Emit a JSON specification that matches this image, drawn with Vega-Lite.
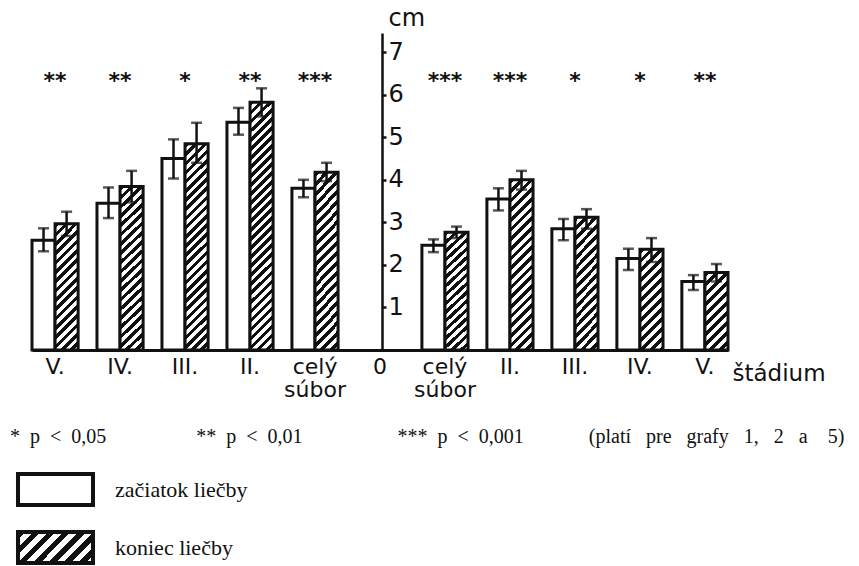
{
  "$schema": "https://vega.github.io/schema/vega-lite/v6.json",
  "width": 696,
  "height": 317,
  "autosize": {"type": "none"},
  "padding": {"left": 32, "top": 33, "right": 131, "bottom": 216},
  "background": "white",
  "config": {"view": {"stroke": null}, "font": "DejaVu Sans"},
  "datasets": {
    "bars": [
      {"g": "L:V.", "phase": "začiatok liečby", "v": 2.58, "lo": 2.32, "hi": 2.86},
      {"g": "L:V.", "phase": "koniec liečby", "v": 2.97, "lo": 2.68, "hi": 3.25},
      {"g": "L:IV.", "phase": "začiatok liečby", "v": 3.45, "lo": 3.10, "hi": 3.82},
      {"g": "L:IV.", "phase": "koniec liečby", "v": 3.84, "lo": 3.47, "hi": 4.21},
      {"g": "L:III.", "phase": "začiatok liečby", "v": 4.50, "lo": 4.03, "hi": 4.95},
      {"g": "L:III.", "phase": "koniec liečby", "v": 4.85, "lo": 4.40, "hi": 5.34},
      {"g": "L:II.", "phase": "začiatok liečby", "v": 5.35, "lo": 5.06, "hi": 5.69},
      {"g": "L:II.", "phase": "koniec liečby", "v": 5.82, "lo": 5.49, "hi": 6.15},
      {"g": "L:celý súbor", "phase": "začiatok liečby", "v": 3.80, "lo": 3.59, "hi": 4.00},
      {"g": "L:celý súbor", "phase": "koniec liečby", "v": 4.18, "lo": 3.97, "hi": 4.40},
      {"g": "R:celý súbor", "phase": "začiatok liečby", "v": 2.46, "lo": 2.30, "hi": 2.60},
      {"g": "R:celý súbor", "phase": "koniec liečby", "v": 2.77, "lo": 2.63, "hi": 2.90},
      {"g": "R:II.", "phase": "začiatok liečby", "v": 3.55, "lo": 3.28, "hi": 3.80},
      {"g": "R:II.", "phase": "koniec liečby", "v": 4.00, "lo": 3.77, "hi": 4.21},
      {"g": "R:III.", "phase": "začiatok liečby", "v": 2.85, "lo": 2.58, "hi": 3.08},
      {"g": "R:III.", "phase": "koniec liečby", "v": 3.12, "lo": 2.85, "hi": 3.31},
      {"g": "R:IV.", "phase": "začiatok liečby", "v": 2.15, "lo": 1.88, "hi": 2.38},
      {"g": "R:IV.", "phase": "koniec liečby", "v": 2.37, "lo": 2.07, "hi": 2.63},
      {"g": "R:V.", "phase": "začiatok liečby", "v": 1.61, "lo": 1.41, "hi": 1.76},
      {"g": "R:V.", "phase": "koniec liečby", "v": 1.82, "lo": 1.61, "hi": 2.02}
    ],
    "stars": [
      {"g": "L:V.", "s": "**"},
      {"g": "L:IV.", "s": "**"},
      {"g": "L:III.", "s": "*"},
      {"g": "L:II.", "s": "**"},
      {"g": "L:celý súbor", "s": "***"},
      {"g": "R:celý súbor", "s": "***"},
      {"g": "R:II.", "s": "***"},
      {"g": "R:III.", "s": "*"},
      {"g": "R:IV.", "s": "*"},
      {"g": "R:V.", "s": "**"}
    ]
  },
  "resolve": {"scale": {"stroke": "independent"}, "legend": {"stroke": "independent"}},
  "layer": [
    {
      "data": {"name": "bars"},
      "transform": [{"filter": "datum.phase === 'začiatok liečby'"}],
      "mark": {"type": "bar", "strokeWidth": 3},
      "encoding": {
        "x": {
          "field": "g", "type": "nominal", "title": "štádium",
          "scale": {"domain": ["L:V.", "L:IV.", "L:III.", "L:II.", "L:celý súbor", "C:0", "R:celý súbor", "R:II.", "R:III.", "R:IV.", "R:V."], "paddingInner": 0.29, "paddingOuter": 0},
          "axis": {
            "labelExpr": "split(slice(datum.value, 2), ' ')",
            "labelAngle": 0, "labelFont": "DejaVu Sans", "labelFontSize": 22, "labelColor": "#111",
            "labelBaseline": "top", "labelPadding": 6, "labelLineHeight": 23, "labelLimit": 200,
            "ticks": false, "domainColor": "#111", "domainWidth": 3, "grid": false,
            "titleFont": "DejaVu Sans", "titleFontSize": 23, "titleFontWeight": "normal", "titleColor": "#111",
            "titleX": 700, "titleY": 30, "titleAlign": "left", "titleBaseline": "alphabetic"
          }
        },
        "xOffset": {"field": "phase", "type": "nominal", "scale": {"domain": ["začiatok liečby", "koniec liečby"], "paddingInner": 0, "paddingOuter": 0}},
        "y": {
          "field": "v", "type": "quantitative", "title": "cm",
          "scale": {"domain": [0, 7.45], "nice": false},
          "axis": {
            "orient": "right", "offset": -346, "values": [1, 2, 3, 4, 5, 6, 7], "grid": false,
            "domainColor": "#111", "domainWidth": 2.5, "tickColor": "#111", "tickWidth": 2.5, "tickSize": 4,
            "labelFont": "DejaVu Sans", "labelFontSize": 24, "labelColor": "#111", "labelPadding": 2, "labelBaseline": "middle",
            "titleAngle": 0, "titleX": 6, "titleY": -8, "titleAlign": "left", "titleBaseline": "alphabetic",
            "titleFont": "DejaVu Sans", "titleFontSize": 24, "titleFontWeight": "normal", "titleColor": "#111"
          }
        },
        "fill": {"value": "#fff"},
        "stroke": {
          "field": "phase", "type": "nominal",
          "scale": {"domain": ["začiatok liečby"], "range": ["#111"]},
          "legend": {
            "orient": "none", "legendX": -22, "legendY": 394, "padding": 0,
            "title": "*\u00a0\u00a0p\u00a0\u00a0<\u00a0\u00a00,05\u00a0\u00a0\u00a0\u00a0\u00a0\u00a0\u00a0\u00a0\u00a0\u00a0\u00a0\u00a0\u00a0\u00a0\u00a0\u00a0\u00a0\u00a0**\u00a0\u00a0p\u00a0\u00a0<\u00a0\u00a00,01\u00a0\u00a0\u00a0\u00a0\u00a0\u00a0\u00a0\u00a0\u00a0\u00a0\u00a0\u00a0\u00a0\u00a0\u00a0\u00a0\u00a0\u00a0\u00a0***\u00a0\u00a0p\u00a0\u00a0<\u00a0\u00a00,001\u00a0\u00a0\u00a0\u00a0\u00a0\u00a0\u00a0\u00a0\u00a0\u00a0\u00a0\u00a0\u00a0(platí\u00a0\u00a0\u00a0pre\u00a0\u00a0\u00a0grafy\u00a0\u00a0\u00a01,\u00a0\u00a0\u00a02\u00a0\u00a0\u00a0a\u00a0\u00a0\u00a0\u00a05)",
            "titleFont": "Liberation Serif", "titleFontSize": 20, "titleFontWeight": "normal", "titleColor": "#111",
            "titleLimit": 1000, "titlePadding": 25, "titleBaseline": "top",
            "symbolType": "M-2.42,-1H2.42V1H-2.42Z", "symbolSize": 961, "symbolStrokeWidth": 4, "symbolOffset": 28,
            "labelFont": "Liberation Serif", "labelFontSize": 22, "labelColor": "#111", "labelOffset": 42, "labelLimit": 400
          }
        }
      }
    },
    {
      "data": {"name": "bars"},
      "transform": [{"filter": "datum.phase === 'koniec liečby'"}],
      "mark": {"type": "bar", "strokeWidth": 3},
      "encoding": {
        "x": {"field": "g", "type": "nominal", "title": "štádium"},
        "xOffset": {"field": "phase", "type": "nominal"},
        "y": {"field": "v", "type": "quantitative", "title": "cm"},
        "fill": {
          "condition": [
            {"test": "datum.v < 2.1", "value": {"gradient": "linear", "x1": 0, "y1": 0, "x2": 0.3536, "y2": 1.191, "stops": [
              {"offset":0,"color":"#111"},{"offset":0.05,"color":"#111"},{"offset":0.05,"color":"#fff"},{"offset":0.1,"color":"#fff"},
              {"offset":0.1,"color":"#111"},{"offset":0.15,"color":"#111"},{"offset":0.15,"color":"#fff"},{"offset":0.2,"color":"#fff"},
              {"offset":0.2,"color":"#111"},{"offset":0.25,"color":"#111"},{"offset":0.25,"color":"#fff"},{"offset":0.3,"color":"#fff"},
              {"offset":0.3,"color":"#111"},{"offset":0.35,"color":"#111"},{"offset":0.35,"color":"#fff"},{"offset":0.4,"color":"#fff"},
              {"offset":0.4,"color":"#111"},{"offset":0.45,"color":"#111"},{"offset":0.45,"color":"#fff"},{"offset":0.5,"color":"#fff"},
              {"offset":0.5,"color":"#111"},{"offset":0.55,"color":"#111"},{"offset":0.55,"color":"#fff"},{"offset":0.6,"color":"#fff"},
              {"offset":0.6,"color":"#111"},{"offset":0.65,"color":"#111"},{"offset":0.65,"color":"#fff"},{"offset":0.7,"color":"#fff"},
              {"offset":0.7,"color":"#111"},{"offset":0.75,"color":"#111"},{"offset":0.75,"color":"#fff"},{"offset":0.8,"color":"#fff"},
              {"offset":0.8,"color":"#111"},{"offset":0.85,"color":"#111"},{"offset":0.85,"color":"#fff"},{"offset":0.9,"color":"#fff"},
              {"offset":0.9,"color":"#111"},{"offset":0.95,"color":"#111"},{"offset":0.95,"color":"#fff"},{"offset":1,"color":"#fff"}
            ]}},
            {"test": "datum.v < 2.6", "value": {"gradient": "linear", "x1": 0, "y1": 0, "x2": 0.2666, "y2": 1.168, "stops": [
              {"offset":0,"color":"#111"},{"offset":0.04,"color":"#111"},{"offset":0.04,"color":"#fff"},{"offset":0.08,"color":"#fff"},
              {"offset":0.08,"color":"#111"},{"offset":0.12,"color":"#111"},{"offset":0.12,"color":"#fff"},{"offset":0.16,"color":"#fff"},
              {"offset":0.16,"color":"#111"},{"offset":0.2,"color":"#111"},{"offset":0.2,"color":"#fff"},{"offset":0.24,"color":"#fff"},
              {"offset":0.24,"color":"#111"},{"offset":0.28,"color":"#111"},{"offset":0.28,"color":"#fff"},{"offset":0.32,"color":"#fff"},
              {"offset":0.32,"color":"#111"},{"offset":0.36,"color":"#111"},{"offset":0.36,"color":"#fff"},{"offset":0.4,"color":"#fff"},
              {"offset":0.4,"color":"#111"},{"offset":0.44,"color":"#111"},{"offset":0.44,"color":"#fff"},{"offset":0.48,"color":"#fff"},
              {"offset":0.48,"color":"#111"},{"offset":0.52,"color":"#111"},{"offset":0.52,"color":"#fff"},{"offset":0.56,"color":"#fff"},
              {"offset":0.56,"color":"#111"},{"offset":0.6,"color":"#111"},{"offset":0.6,"color":"#fff"},{"offset":0.64,"color":"#fff"},
              {"offset":0.64,"color":"#111"},{"offset":0.68,"color":"#111"},{"offset":0.68,"color":"#fff"},{"offset":0.72,"color":"#fff"},
              {"offset":0.72,"color":"#111"},{"offset":0.76,"color":"#111"},{"offset":0.76,"color":"#fff"},{"offset":0.8,"color":"#fff"},
              {"offset":0.8,"color":"#111"},{"offset":0.84,"color":"#111"},{"offset":0.84,"color":"#fff"},{"offset":0.88,"color":"#fff"},
              {"offset":0.88,"color":"#111"},{"offset":0.92,"color":"#111"},{"offset":0.92,"color":"#fff"},{"offset":0.96,"color":"#fff"},
              {"offset":0.96,"color":"#111"},{"offset":1,"color":"#111"}
            ]}},
            {"test": "datum.v < 3.5", "value": {"gradient": "linear", "x1": 0, "y1": 0, "x2": 0.2098, "y2": 1.145, "stops": [
              {"offset":0,"color":"#111"},{"offset":0.03125,"color":"#111"},{"offset":0.03125,"color":"#fff"},{"offset":0.0625,"color":"#fff"},
              {"offset":0.0625,"color":"#111"},{"offset":0.09375,"color":"#111"},{"offset":0.09375,"color":"#fff"},{"offset":0.125,"color":"#fff"},
              {"offset":0.125,"color":"#111"},{"offset":0.15625,"color":"#111"},{"offset":0.15625,"color":"#fff"},{"offset":0.1875,"color":"#fff"},
              {"offset":0.1875,"color":"#111"},{"offset":0.21875,"color":"#111"},{"offset":0.21875,"color":"#fff"},{"offset":0.25,"color":"#fff"},
              {"offset":0.25,"color":"#111"},{"offset":0.28125,"color":"#111"},{"offset":0.28125,"color":"#fff"},{"offset":0.3125,"color":"#fff"},
              {"offset":0.3125,"color":"#111"},{"offset":0.34375,"color":"#111"},{"offset":0.34375,"color":"#fff"},{"offset":0.375,"color":"#fff"},
              {"offset":0.375,"color":"#111"},{"offset":0.40625,"color":"#111"},{"offset":0.40625,"color":"#fff"},{"offset":0.4375,"color":"#fff"},
              {"offset":0.4375,"color":"#111"},{"offset":0.46875,"color":"#111"},{"offset":0.46875,"color":"#fff"},{"offset":0.5,"color":"#fff"},
              {"offset":0.5,"color":"#111"},{"offset":0.53125,"color":"#111"},{"offset":0.53125,"color":"#fff"},{"offset":0.5625,"color":"#fff"},
              {"offset":0.5625,"color":"#111"},{"offset":0.59375,"color":"#111"},{"offset":0.59375,"color":"#fff"},{"offset":0.625,"color":"#fff"},
              {"offset":0.625,"color":"#111"},{"offset":0.65625,"color":"#111"},{"offset":0.65625,"color":"#fff"},{"offset":0.6875,"color":"#fff"},
              {"offset":0.6875,"color":"#111"},{"offset":0.71875,"color":"#111"},{"offset":0.71875,"color":"#fff"},{"offset":0.75,"color":"#fff"},
              {"offset":0.75,"color":"#111"},{"offset":0.78125,"color":"#111"},{"offset":0.78125,"color":"#fff"},{"offset":0.8125,"color":"#fff"},
              {"offset":0.8125,"color":"#111"},{"offset":0.84375,"color":"#111"},{"offset":0.84375,"color":"#fff"},{"offset":0.875,"color":"#fff"},
              {"offset":0.875,"color":"#111"},{"offset":0.90625,"color":"#111"},{"offset":0.90625,"color":"#fff"},{"offset":0.9375,"color":"#fff"},
              {"offset":0.9375,"color":"#111"},{"offset":0.96875,"color":"#111"},{"offset":0.96875,"color":"#fff"},{"offset":1,"color":"#fff"}
            ]}},
            {"test": "datum.v < 4.5", "value": {"gradient": "linear", "x1": 0, "y1": 0, "x2": 0.1509, "y2": 1.115, "stops": [
              {"offset":0,"color":"#111"},{"offset":0.025,"color":"#111"},{"offset":0.025,"color":"#fff"},{"offset":0.05,"color":"#fff"},
              {"offset":0.05,"color":"#111"},{"offset":0.075,"color":"#111"},{"offset":0.075,"color":"#fff"},{"offset":0.1,"color":"#fff"},
              {"offset":0.1,"color":"#111"},{"offset":0.125,"color":"#111"},{"offset":0.125,"color":"#fff"},{"offset":0.15,"color":"#fff"},
              {"offset":0.15,"color":"#111"},{"offset":0.175,"color":"#111"},{"offset":0.175,"color":"#fff"},{"offset":0.2,"color":"#fff"},
              {"offset":0.2,"color":"#111"},{"offset":0.225,"color":"#111"},{"offset":0.225,"color":"#fff"},{"offset":0.25,"color":"#fff"},
              {"offset":0.25,"color":"#111"},{"offset":0.275,"color":"#111"},{"offset":0.275,"color":"#fff"},{"offset":0.3,"color":"#fff"},
              {"offset":0.3,"color":"#111"},{"offset":0.325,"color":"#111"},{"offset":0.325,"color":"#fff"},{"offset":0.35,"color":"#fff"},
              {"offset":0.35,"color":"#111"},{"offset":0.375,"color":"#111"},{"offset":0.375,"color":"#fff"},{"offset":0.4,"color":"#fff"},
              {"offset":0.4,"color":"#111"},{"offset":0.425,"color":"#111"},{"offset":0.425,"color":"#fff"},{"offset":0.45,"color":"#fff"},
              {"offset":0.45,"color":"#111"},{"offset":0.475,"color":"#111"},{"offset":0.475,"color":"#fff"},{"offset":0.5,"color":"#fff"},
              {"offset":0.5,"color":"#111"},{"offset":0.525,"color":"#111"},{"offset":0.525,"color":"#fff"},{"offset":0.55,"color":"#fff"},
              {"offset":0.55,"color":"#111"},{"offset":0.575,"color":"#111"},{"offset":0.575,"color":"#fff"},{"offset":0.6,"color":"#fff"},
              {"offset":0.6,"color":"#111"},{"offset":0.625,"color":"#111"},{"offset":0.625,"color":"#fff"},{"offset":0.65,"color":"#fff"},
              {"offset":0.65,"color":"#111"},{"offset":0.675,"color":"#111"},{"offset":0.675,"color":"#fff"},{"offset":0.7,"color":"#fff"},
              {"offset":0.7,"color":"#111"},{"offset":0.725,"color":"#111"},{"offset":0.725,"color":"#fff"},{"offset":0.75,"color":"#fff"},
              {"offset":0.75,"color":"#111"},{"offset":0.775,"color":"#111"},{"offset":0.775,"color":"#fff"},{"offset":0.8,"color":"#fff"},
              {"offset":0.8,"color":"#111"},{"offset":0.825,"color":"#111"},{"offset":0.825,"color":"#fff"},{"offset":0.85,"color":"#fff"},
              {"offset":0.85,"color":"#111"},{"offset":0.875,"color":"#111"},{"offset":0.875,"color":"#fff"},{"offset":0.9,"color":"#fff"},
              {"offset":0.9,"color":"#111"},{"offset":0.925,"color":"#111"},{"offset":0.925,"color":"#fff"},{"offset":0.95,"color":"#fff"},
              {"offset":0.95,"color":"#111"},{"offset":0.975,"color":"#111"},{"offset":0.975,"color":"#fff"},{"offset":1,"color":"#fff"}
            ]}},
            {"test": "datum.v < 5.3", "value": {"gradient": "linear", "x1": 0, "y1": 0, "x2": 0.1225, "y2": 1.098, "stops": [
              {"offset":0,"color":"#111"},{"offset":0.02,"color":"#111"},{"offset":0.02,"color":"#fff"},{"offset":0.04,"color":"#fff"},
              {"offset":0.04,"color":"#111"},{"offset":0.06,"color":"#111"},{"offset":0.06,"color":"#fff"},{"offset":0.08,"color":"#fff"},
              {"offset":0.08,"color":"#111"},{"offset":0.1,"color":"#111"},{"offset":0.1,"color":"#fff"},{"offset":0.12,"color":"#fff"},
              {"offset":0.12,"color":"#111"},{"offset":0.14,"color":"#111"},{"offset":0.14,"color":"#fff"},{"offset":0.16,"color":"#fff"},
              {"offset":0.16,"color":"#111"},{"offset":0.18,"color":"#111"},{"offset":0.18,"color":"#fff"},{"offset":0.2,"color":"#fff"},
              {"offset":0.2,"color":"#111"},{"offset":0.22,"color":"#111"},{"offset":0.22,"color":"#fff"},{"offset":0.24,"color":"#fff"},
              {"offset":0.24,"color":"#111"},{"offset":0.26,"color":"#111"},{"offset":0.26,"color":"#fff"},{"offset":0.28,"color":"#fff"},
              {"offset":0.28,"color":"#111"},{"offset":0.3,"color":"#111"},{"offset":0.3,"color":"#fff"},{"offset":0.32,"color":"#fff"},
              {"offset":0.32,"color":"#111"},{"offset":0.34,"color":"#111"},{"offset":0.34,"color":"#fff"},{"offset":0.36,"color":"#fff"},
              {"offset":0.36,"color":"#111"},{"offset":0.38,"color":"#111"},{"offset":0.38,"color":"#fff"},{"offset":0.4,"color":"#fff"},
              {"offset":0.4,"color":"#111"},{"offset":0.42,"color":"#111"},{"offset":0.42,"color":"#fff"},{"offset":0.44,"color":"#fff"},
              {"offset":0.44,"color":"#111"},{"offset":0.46,"color":"#111"},{"offset":0.46,"color":"#fff"},{"offset":0.48,"color":"#fff"},
              {"offset":0.48,"color":"#111"},{"offset":0.5,"color":"#111"},{"offset":0.5,"color":"#fff"},{"offset":0.52,"color":"#fff"},
              {"offset":0.52,"color":"#111"},{"offset":0.54,"color":"#111"},{"offset":0.54,"color":"#fff"},{"offset":0.56,"color":"#fff"},
              {"offset":0.56,"color":"#111"},{"offset":0.58,"color":"#111"},{"offset":0.58,"color":"#fff"},{"offset":0.6,"color":"#fff"},
              {"offset":0.6,"color":"#111"},{"offset":0.62,"color":"#111"},{"offset":0.62,"color":"#fff"},{"offset":0.64,"color":"#fff"},
              {"offset":0.64,"color":"#111"},{"offset":0.66,"color":"#111"},{"offset":0.66,"color":"#fff"},{"offset":0.68,"color":"#fff"},
              {"offset":0.68,"color":"#111"},{"offset":0.7,"color":"#111"},{"offset":0.7,"color":"#fff"},{"offset":0.72,"color":"#fff"},
              {"offset":0.72,"color":"#111"},{"offset":0.74,"color":"#111"},{"offset":0.74,"color":"#fff"},{"offset":0.76,"color":"#fff"},
              {"offset":0.76,"color":"#111"},{"offset":0.78,"color":"#111"},{"offset":0.78,"color":"#fff"},{"offset":0.8,"color":"#fff"},
              {"offset":0.8,"color":"#111"},{"offset":0.82,"color":"#111"},{"offset":0.82,"color":"#fff"},{"offset":0.84,"color":"#fff"},
              {"offset":0.84,"color":"#111"},{"offset":0.86,"color":"#111"},{"offset":0.86,"color":"#fff"},{"offset":0.88,"color":"#fff"},
              {"offset":0.88,"color":"#111"},{"offset":0.9,"color":"#111"},{"offset":0.9,"color":"#fff"},{"offset":0.92,"color":"#fff"},
              {"offset":0.92,"color":"#111"},{"offset":0.94,"color":"#111"},{"offset":0.94,"color":"#fff"},{"offset":0.96,"color":"#fff"},
              {"offset":0.96,"color":"#111"},{"offset":0.98,"color":"#111"},{"offset":0.98,"color":"#fff"},{"offset":1,"color":"#fff"}
            ]}},
            {"test": "datum.v >= 0", "value": {"gradient": "linear", "x1": 0, "y1": 0, "x2": 0.1007, "y2": 1.0843, "stops": [
              {"offset":0,"color":"#111"},{"offset":0.0167,"color":"#111"},{"offset":0.0167,"color":"#fff"},{"offset":0.0333,"color":"#fff"},
              {"offset":0.0333,"color":"#111"},{"offset":0.05,"color":"#111"},{"offset":0.05,"color":"#fff"},{"offset":0.0667,"color":"#fff"},
              {"offset":0.0667,"color":"#111"},{"offset":0.0833,"color":"#111"},{"offset":0.0833,"color":"#fff"},{"offset":0.1,"color":"#fff"},
              {"offset":0.1,"color":"#111"},{"offset":0.1167,"color":"#111"},{"offset":0.1167,"color":"#fff"},{"offset":0.1333,"color":"#fff"},
              {"offset":0.1333,"color":"#111"},{"offset":0.15,"color":"#111"},{"offset":0.15,"color":"#fff"},{"offset":0.1667,"color":"#fff"},
              {"offset":0.1667,"color":"#111"},{"offset":0.1833,"color":"#111"},{"offset":0.1833,"color":"#fff"},{"offset":0.2,"color":"#fff"},
              {"offset":0.2,"color":"#111"},{"offset":0.2167,"color":"#111"},{"offset":0.2167,"color":"#fff"},{"offset":0.2333,"color":"#fff"},
              {"offset":0.2333,"color":"#111"},{"offset":0.25,"color":"#111"},{"offset":0.25,"color":"#fff"},{"offset":0.2667,"color":"#fff"},
              {"offset":0.2667,"color":"#111"},{"offset":0.2833,"color":"#111"},{"offset":0.2833,"color":"#fff"},{"offset":0.3,"color":"#fff"},
              {"offset":0.3,"color":"#111"},{"offset":0.3167,"color":"#111"},{"offset":0.3167,"color":"#fff"},{"offset":0.3333,"color":"#fff"},
              {"offset":0.3333,"color":"#111"},{"offset":0.35,"color":"#111"},{"offset":0.35,"color":"#fff"},{"offset":0.3667,"color":"#fff"},
              {"offset":0.3667,"color":"#111"},{"offset":0.3833,"color":"#111"},{"offset":0.3833,"color":"#fff"},{"offset":0.4,"color":"#fff"},
              {"offset":0.4,"color":"#111"},{"offset":0.4167,"color":"#111"},{"offset":0.4167,"color":"#fff"},{"offset":0.4333,"color":"#fff"},
              {"offset":0.4333,"color":"#111"},{"offset":0.45,"color":"#111"},{"offset":0.45,"color":"#fff"},{"offset":0.4667,"color":"#fff"},
              {"offset":0.4667,"color":"#111"},{"offset":0.4833,"color":"#111"},{"offset":0.4833,"color":"#fff"},{"offset":0.5,"color":"#fff"},
              {"offset":0.5,"color":"#111"},{"offset":0.5167,"color":"#111"},{"offset":0.5167,"color":"#fff"},{"offset":0.5333,"color":"#fff"},
              {"offset":0.5333,"color":"#111"},{"offset":0.55,"color":"#111"},{"offset":0.55,"color":"#fff"},{"offset":0.5667,"color":"#fff"},
              {"offset":0.5667,"color":"#111"},{"offset":0.5833,"color":"#111"},{"offset":0.5833,"color":"#fff"},{"offset":0.6,"color":"#fff"},
              {"offset":0.6,"color":"#111"},{"offset":0.6167,"color":"#111"},{"offset":0.6167,"color":"#fff"},{"offset":0.6333,"color":"#fff"},
              {"offset":0.6333,"color":"#111"},{"offset":0.65,"color":"#111"},{"offset":0.65,"color":"#fff"},{"offset":0.6667,"color":"#fff"},
              {"offset":0.6667,"color":"#111"},{"offset":0.6833,"color":"#111"},{"offset":0.6833,"color":"#fff"},{"offset":0.7,"color":"#fff"},
              {"offset":0.7,"color":"#111"},{"offset":0.7167,"color":"#111"},{"offset":0.7167,"color":"#fff"},{"offset":0.7333,"color":"#fff"},
              {"offset":0.7333,"color":"#111"},{"offset":0.75,"color":"#111"},{"offset":0.75,"color":"#fff"},{"offset":0.7667,"color":"#fff"},
              {"offset":0.7667,"color":"#111"},{"offset":0.7833,"color":"#111"},{"offset":0.7833,"color":"#fff"},{"offset":0.8,"color":"#fff"},
              {"offset":0.8,"color":"#111"},{"offset":0.8167,"color":"#111"},{"offset":0.8167,"color":"#fff"},{"offset":0.8333,"color":"#fff"},
              {"offset":0.8333,"color":"#111"},{"offset":0.85,"color":"#111"},{"offset":0.85,"color":"#fff"},{"offset":0.8667,"color":"#fff"},
              {"offset":0.8667,"color":"#111"},{"offset":0.8833,"color":"#111"},{"offset":0.8833,"color":"#fff"},{"offset":0.9,"color":"#fff"},
              {"offset":0.9,"color":"#111"},{"offset":0.9167,"color":"#111"},{"offset":0.9167,"color":"#fff"},{"offset":0.9333,"color":"#fff"},
              {"offset":0.9333,"color":"#111"},{"offset":0.95,"color":"#111"},{"offset":0.95,"color":"#fff"},{"offset":0.9667,"color":"#fff"},
              {"offset":0.9667,"color":"#111"},{"offset":0.9833,"color":"#111"},{"offset":0.9833,"color":"#fff"},{"offset":1,"color":"#fff"}
            ]}}
          ],
          "value": {"gradient": "linear", "x1": 0, "y1": 0, "x2": 1.207, "y2": 0.4985, "stops": [
            {"offset":0,"color":"#111"},{"offset":0.0714,"color":"#111"},{"offset":0.0714,"color":"#fff"},{"offset":0.1429,"color":"#fff"},
            {"offset":0.1429,"color":"#111"},{"offset":0.2143,"color":"#111"},{"offset":0.2143,"color":"#fff"},{"offset":0.2857,"color":"#fff"},
            {"offset":0.2857,"color":"#111"},{"offset":0.3571,"color":"#111"},{"offset":0.3571,"color":"#fff"},{"offset":0.4286,"color":"#fff"},
            {"offset":0.4286,"color":"#111"},{"offset":0.5,"color":"#111"},{"offset":0.5,"color":"#fff"},{"offset":0.5714,"color":"#fff"},
            {"offset":0.5714,"color":"#111"},{"offset":0.6429,"color":"#111"},{"offset":0.6429,"color":"#fff"},{"offset":0.7143,"color":"#fff"},
            {"offset":0.7143,"color":"#111"},{"offset":0.7857,"color":"#111"},{"offset":0.7857,"color":"#fff"},{"offset":0.8571,"color":"#fff"},
            {"offset":0.8571,"color":"#111"},{"offset":0.9286,"color":"#111"},{"offset":0.9286,"color":"#fff"},{"offset":1,"color":"#fff"}
          ]}
        },
        "stroke": {
          "field": "phase", "type": "nominal",
          "scale": {"domain": ["koniec liečby"], "range": ["#111"]},
          "legend": {
            "orient": "none", "legendX": -22, "legendY": 497, "padding": 0, "title": null,
            "symbolType": "M-2.42,-1H2.42V1H-2.42Z", "symbolSize": 961, "symbolStrokeWidth": 4, "symbolOffset": 28,
            "labelFont": "Liberation Serif", "labelFontSize": 22, "labelColor": "#111", "labelOffset": 42, "labelLimit": 400
          }
        }
      }
    },
    {
      "data": {"name": "bars"},
      "mark": {"type": "rule", "strokeWidth": 2.5, "color": "#111"},
      "encoding": {
        "x": {"field": "g", "type": "nominal", "title": "štádium"},
        "xOffset": {"field": "phase", "type": "nominal"},
        "y": {"field": "lo", "type": "quantitative", "title": "cm"},
        "y2": {"field": "hi"}
      }
    },
    {
      "data": {"name": "bars"},
      "mark": {"type": "tick", "orient": "horizontal", "size": 11, "thickness": 2.5, "color": "#111"},
      "encoding": {
        "x": {"field": "g", "type": "nominal", "title": "štádium"},
        "xOffset": {"field": "phase", "type": "nominal"},
        "y": {"field": "lo", "type": "quantitative", "title": "cm"}
      }
    },
    {
      "data": {"name": "bars"},
      "mark": {"type": "tick", "orient": "horizontal", "size": 11, "thickness": 2.5, "color": "#111"},
      "encoding": {
        "x": {"field": "g", "type": "nominal", "title": "štádium"},
        "xOffset": {"field": "phase", "type": "nominal"},
        "y": {"field": "hi", "type": "quantitative", "title": "cm"}
      }
    },
    {
      "data": {"name": "stars"},
      "mark": {"type": "text", "font": "DejaVu Sans", "fontWeight": "bold", "fontSize": 22, "color": "#111", "baseline": "alphabetic", "align": "center"},
      "encoding": {
        "x": {"field": "g", "type": "nominal", "title": "štádium"},
        "y": {"datum": 6.15, "type": "quantitative", "title": "cm"},
        "text": {"field": "s"}
      }
    }
  ]
}
